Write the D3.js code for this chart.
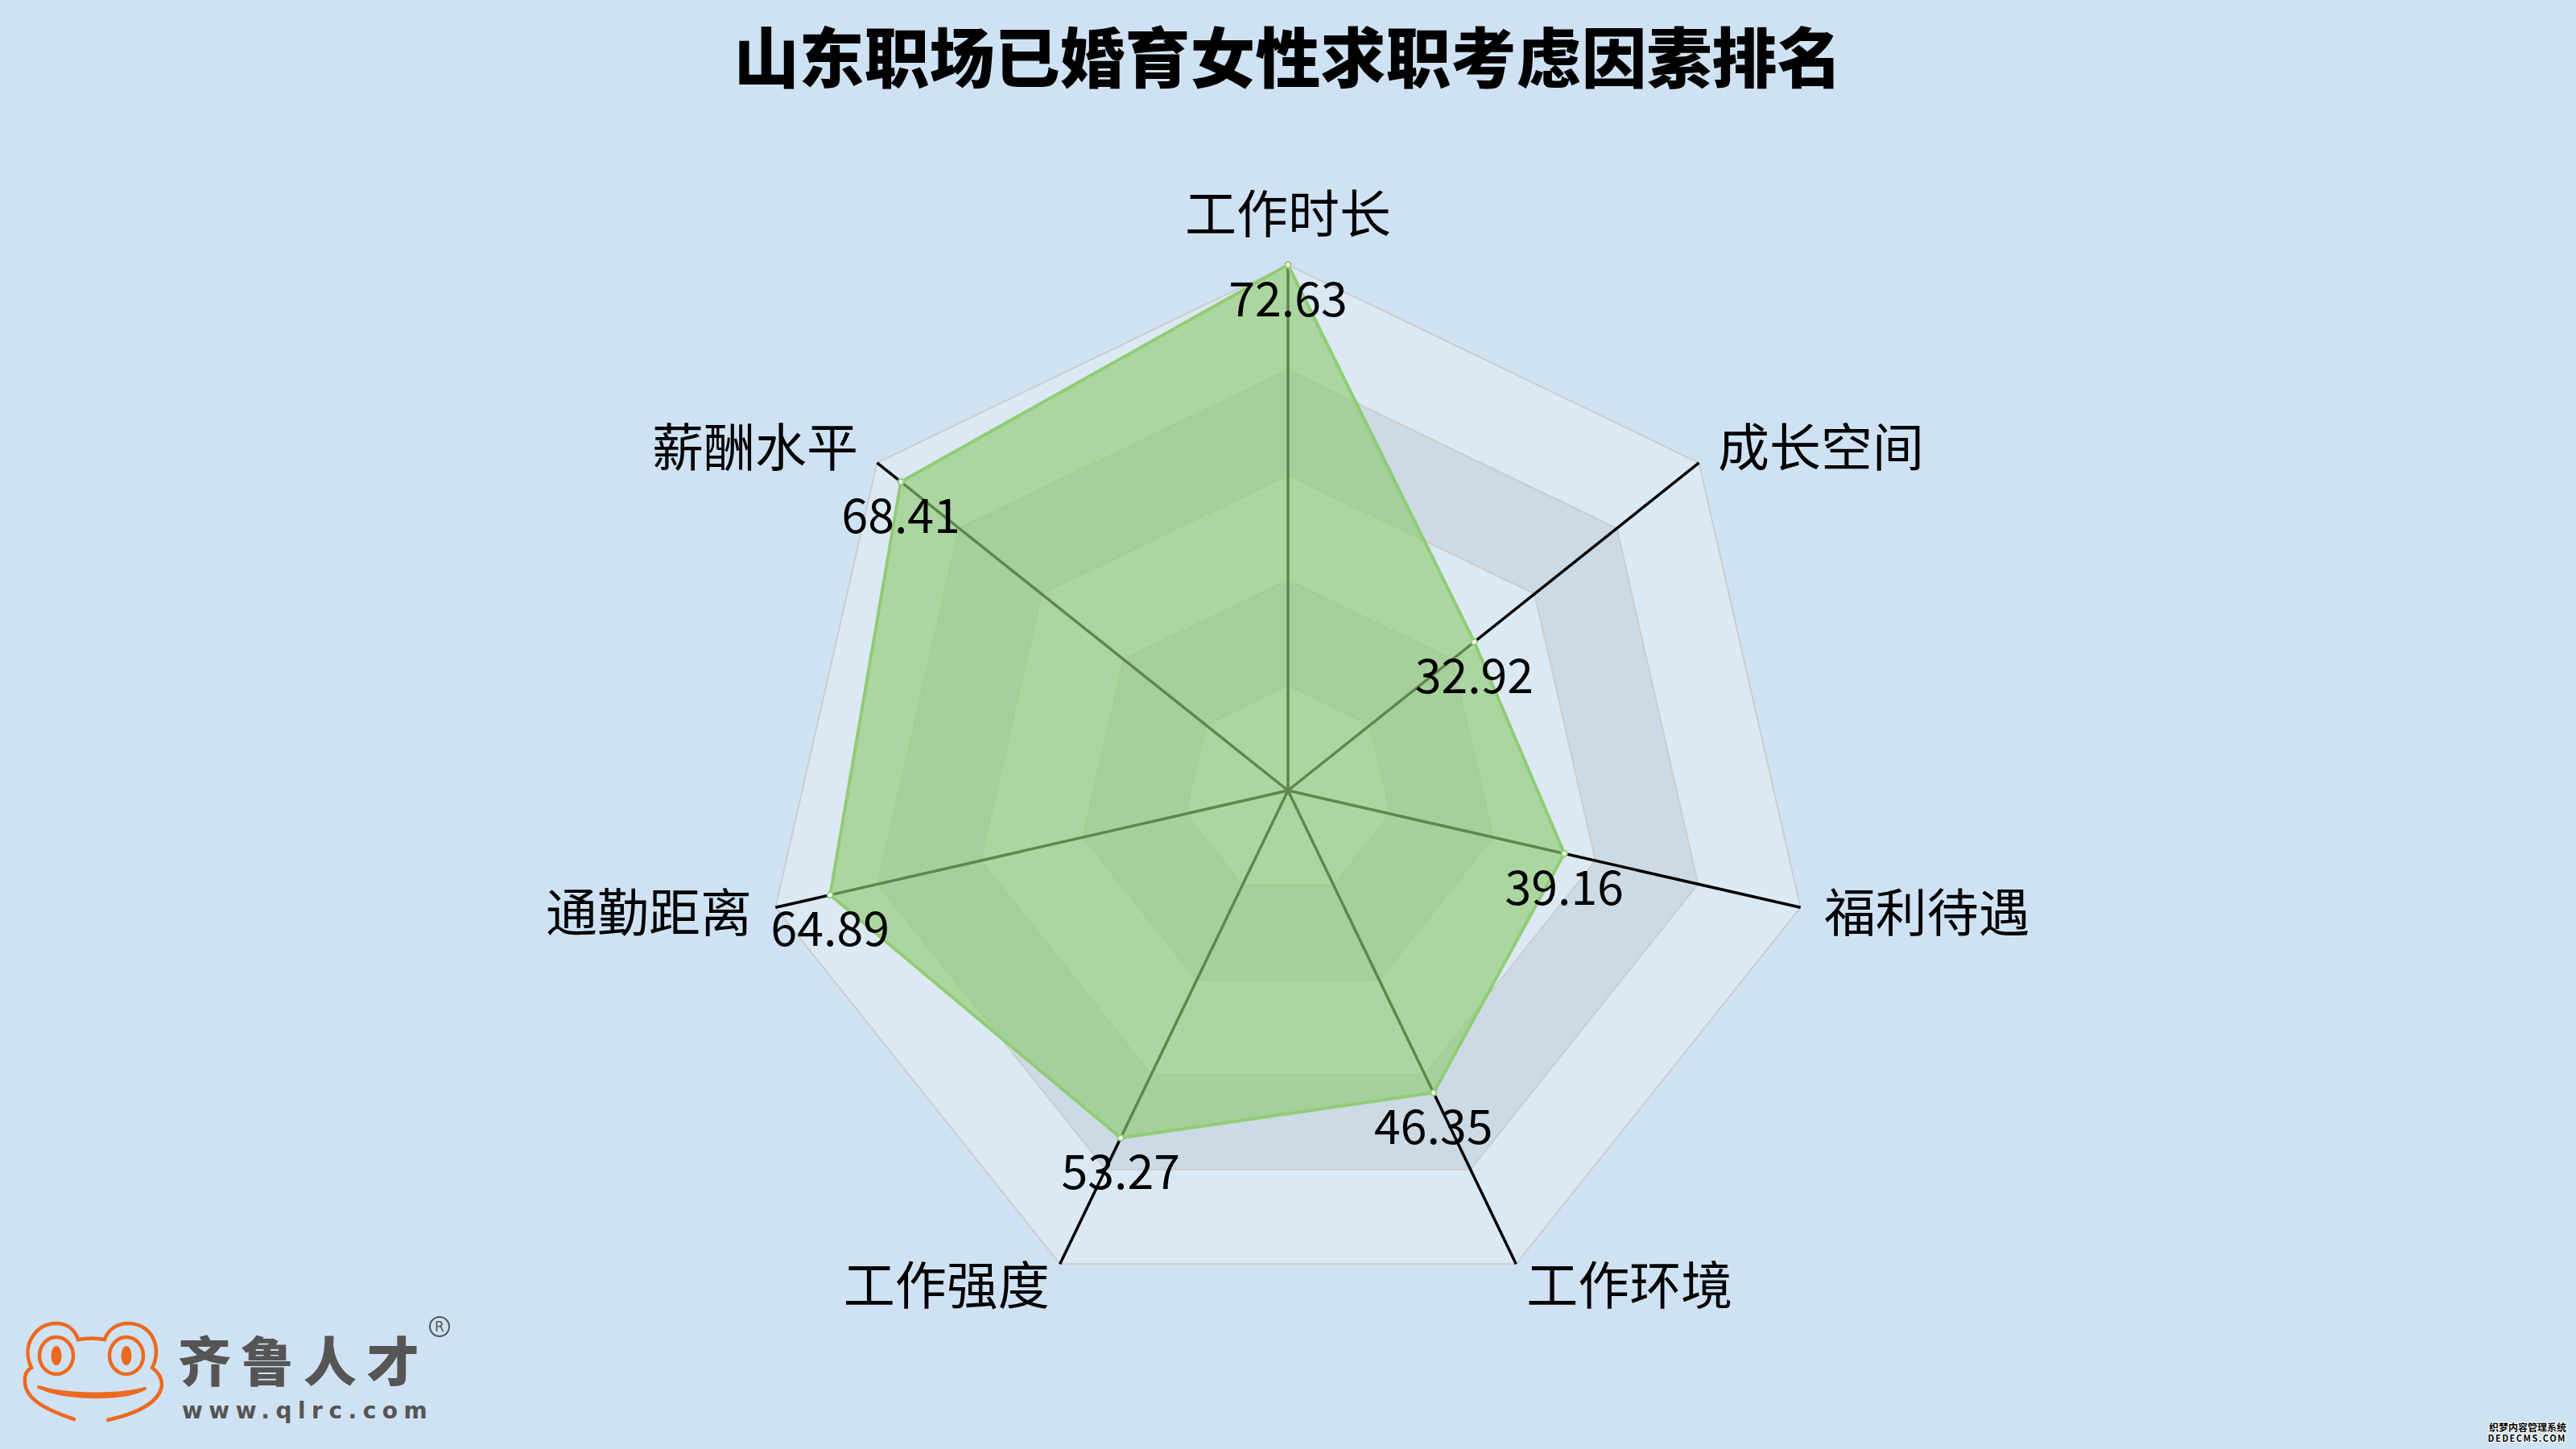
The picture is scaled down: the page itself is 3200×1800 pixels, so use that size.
<!DOCTYPE html>
<html>
<head>
<meta charset="utf-8">
<script src="https://cdn.jsdelivr.net/npm/d3@7"></script>
<style>
  html, body { margin: 0; padding: 0; background: #cfe2f3; }
  svg { display: block; }
</style>
</head>
<body>
<svg id="chart" width="3200" height="1800"></svg>
<script>
// ---------------- data ----------------
const titleText = "山东职场已婚育女性求职考虑因素排名";
const categories = ["工作时长", "成长空间", "福利待遇", "工作环境", "工作强度", "通勤距离", "薪酬水平"];
const values = [72.63, 32.92, 39.16, 46.35, 53.27, 64.89, 68.41];
const splitLevels = [1, 2, 3, 4, 5];

// ---------------- layout ----------------
const W = 3200, H = 1800;
const cx = 1600, cy = 982, R = 653;
const FONT = "'Noto Sans CJK SC', 'Noto Sans', sans-serif";

const svg = d3.select("#chart");
svg.append("rect").attr("width", W).attr("height", H).attr("fill", "#cfe2f3");

const n = categories.length;
const angle = d3.scaleLinear().domain([0, n]).range([0, 2 * Math.PI]);
const rScale = d3.scaleLinear().domain([0, d3.max(values)]).range([0, R]);
const levelScale = d3.scaleLinear().domain([0, splitLevels.length]).range([0, R]);

const dir = i => [Math.sin(angle(i)), -Math.cos(angle(i))];
const pt = (i, r) => [cx + dir(i)[0] * r, cy + dir(i)[1] * r];

const g = svg.append("g");

// split areas (alternating bands, innermost first)
const bandColors = ["rgba(250,250,250,0.3)", "rgba(200,200,200,0.3)"];
const ringPath = r => d3.range(n).map(i => pt(i, r));
splitLevels.slice().reverse().forEach(lv => {
  const outer = ringPath(levelScale(lv));
  const inner = ringPath(levelScale(lv - 1));
  const d = "M" + outer.join("L") + "Z" + (lv > 1 ? "M" + inner.slice().reverse().join("L") + "Z" : "");
  g.append("path").attr("d", d)
    .attr("fill", bandColors[(lv - 1) % 2])
    .attr("fill-rule", "evenodd");
});
// split lines
splitLevels.forEach(lv => {
  g.append("path").attr("d", "M" + ringPath(levelScale(lv)).join("L") + "Z")
    .attr("fill", "none").attr("stroke", "#cccccc").attr("stroke-width", 2);
});
// axis lines
categories.forEach((c, i) => {
  const p = pt(i, R);
  g.append("line").attr("x1", cx).attr("y1", cy).attr("x2", p[0]).attr("y2", p[1])
    .attr("stroke", "#000").attr("stroke-width", 3.5);
});

// data area
const dataPts = values.map((v, i) => pt(i, rScale(v)));
const line = d3.line().curve(d3.curveLinearClosed);
g.append("path").attr("d", line(dataPts))
  .attr("fill", "#91cc75").attr("fill-opacity", 0.66)
  .attr("stroke", "#91cc75").attr("stroke-width", 4).attr("stroke-linejoin", "round");
g.selectAll("circle.sym").data(dataPts).enter().append("circle")
  .attr("class", "sym")
  .attr("cx", d => d[0]).attr("cy", d => d[1]).attr("r", 3.5)
  .attr("fill", "#fff").attr("stroke", "#91cc75").attr("stroke-width", 2);

// value labels
g.selectAll("text.val").data(values).enter().append("text")
  .attr("class", "val")
  .attr("x", (v, i) => dataPts[i][0])
  .attr("y", (v, i) => dataPts[i][1] + 38)
  .attr("text-anchor", "middle").attr("dominant-baseline", "central")
  .attr("font-family", FONT).attr("font-size", 59).attr("fill", "#000")
  .text(v => v.toFixed(2));

// category names
const gap = 30;
categories.forEach((c, i) => {
  const [dx, dy] = dir(i);
  const p = pt(i, R + gap);
  const anchor = Math.abs(dx) < 0.1 ? "middle" : (dx > 0 ? "start" : "end");
  const yOff = dy < -0.9 ? -38 : -5;
  g.append("text").attr("x", p[0]).attr("y", p[1] + yOff)
    .attr("text-anchor", anchor).attr("dominant-baseline", "central")
    .attr("font-family", FONT).attr("font-size", 64).attr("fill", "#000")
    .text(c);
});

// title
svg.append("text").attr("x", W / 2).attr("y", 66)
  .attr("text-anchor", "middle").attr("dominant-baseline", "central")
  .attr("font-family", FONT).attr("font-weight", 900).attr("font-size", 81).attr("fill", "#000")
  .text(titleText);

// ---------------- logo ----------------
const logo = svg.append("g");
const orange = "#ec6a1f";
logo.append("path")
  .attr("d", "M92,1763 C60,1752 33,1740 31,1718 C30,1706 34,1702 39,1699 C33,1686 33,1672 40,1661 C48,1648 60,1644 70,1644 C84,1644 93,1652 97,1664 C108,1662 120,1662 130,1664 C134,1652 145,1644 159,1644 C172,1644 184,1650 190,1662 C196,1674 195,1688 189,1699 C196,1704 201,1710 201,1720 C199,1742 170,1756 134,1764")
  .attr("fill", "none").attr("stroke", orange).attr("stroke-width", 4.5).attr("stroke-linecap", "round");
[[70, 1684], [157, 1684]].forEach(([ex, ey]) => {
  logo.append("ellipse").attr("cx", ex).attr("cy", ey).attr("rx", 21).attr("ry", 23)
    .attr("fill", "none").attr("stroke", orange).attr("stroke-width", 4.5);
  logo.append("ellipse").attr("cx", ex).attr("cy", ey).attr("rx", 6.5).attr("ry", 12)
    .attr("fill", orange);
});
logo.append("path")
  .attr("d", "M48,1723 C80,1738 150,1740 180,1725 C150,1734 80,1734 48,1723 Z")
  .attr("fill", orange).attr("stroke", orange).attr("stroke-width", 4).attr("stroke-linejoin", "round");
logo.append("text").attr("x", 221).attr("y", 1687)
  .attr("dominant-baseline", "central")
  .attr("font-family", FONT).attr("font-weight", 900).attr("font-size", 66)
  .attr("letter-spacing", 12).attr("fill", "#555555")
  .text("齐鲁人才");
logo.append("text").attr("x", 226).attr("y", 1762)
  .attr("font-family", "'DejaVu Sans', sans-serif").attr("font-weight", "bold").attr("font-size", 28)
  .attr("letter-spacing", 7.5).attr("fill", "#555555")
  .text("www.qlrc.com");
logo.append("circle").attr("cx", 546).attr("cy", 1648).attr("r", 12)
  .attr("fill", "none").attr("stroke", "#555555").attr("stroke-width", 2);
logo.append("text").attr("x", 546).attr("y", 1648)
  .attr("text-anchor", "middle").attr("dominant-baseline", "central")
  .attr("font-family", "'DejaVu Sans', sans-serif").attr("font-size", 17).attr("fill", "#555555")
  .text("R");

// watermark
const wm = svg.append("g").attr("font-family", FONT).attr("font-weight", "bold")
  .attr("fill", "#000").attr("stroke", "#fff").attr("stroke-width", 2).attr("paint-order", "stroke");
wm.append("text").attr("x", 3188).attr("y", 1778).attr("text-anchor", "end").attr("font-size", 12).text("织梦内容管理系统");
wm.append("text").attr("x", 3188).attr("y", 1791).attr("text-anchor", "end").attr("font-size", 11)
  .attr("letter-spacing", 1.5).text("DEDECMS.COM");
</script>
</body>
</html>
